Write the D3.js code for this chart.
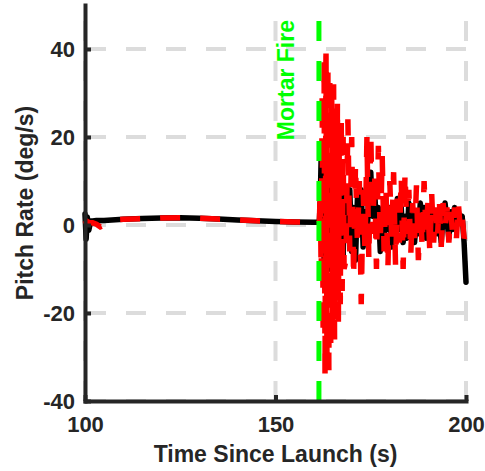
<!DOCTYPE html>
<html>
<head>
<meta charset="utf-8">
<script src="https://cdn.jsdelivr.net/npm/d3@7"></script>
<style>
  body { margin: 0; background: #fff; }
  svg text { font-family: "Liberation Sans", Arial, sans-serif; font-weight: bold; }
</style>
</head>
<body>
<script>
// pitch rate data
var preTime  = [100, 100.3, 100.6, 101, 101.5, 102, 103, 104, 105, 106, 108, 110, 115, 120, 125, 130, 135, 140, 145, 150, 155, 160, 161];
var preBlack = [2.5, -3.2, 1.8, -1.2, 0.9, 0.9, 1.0, 1.0, 1.05, 1.1, 1.2, 1.3, 1.45, 1.6, 1.65, 1.55, 1.35, 1.15, 0.95, 0.8, 0.7, 0.6, 0.6];
var preRed   = [1.0, 0.5, 0.8, 0.6, 0.5, 0.5, 0.2, -0.4, 0.0, 0.3, 1.2, 1.3, 1.45, 1.6, 1.65, 1.55, 1.35, 1.15, 0.95, 0.8, 0.7, 0.6, 0.6];

// right after the mortar fire the samples are denser
var postTime = [161.5, 161.75, 162, 162.25, 162.5, 162.75, 163, 163.25, 163.5, 163.75, 164, 164.25, 164.5, 164.75,
  165, 165.25, 165.5, 165.75, 166, 166.25, 166.5, 166.75, 167, 167.25, 167.5, 167.75, 168,
  168.5, 169, 169.5, 170,
  170.5, 171, 171.5, 172, 172.5, 173, 173.5, 174, 174.5, 175, 175.5, 176, 176.5, 177, 177.5, 178, 178.5, 179, 179.5, 180,
  180.5, 181, 181.5, 182, 182.5, 183, 183.5, 184, 184.5, 185, 185.5, 186, 186.5, 187, 187.5, 188, 188.5, 189, 189.5, 190,
  190.5, 191, 191.5, 192, 192.5, 193, 193.5, 194, 194.5, 195, 195.5, 196, 196.5, 197, 197.5, 198, 198.5, 199, 199.5, 200];
var postBlack = [0.5, 6, 16, -4, 12, -8, 10, -12, 8, -6, 12, -10, 6, -8,
  9, -4, 8, -12, 4, -14, 6, -10, 2, -6, 8, -8, 4,
  6, -2, 8, -6,
  4, -8, 6, -2, 8, -5, 3, -4, 8, 12, 2, 9, -2, 4, -6, 2, -3, 5, -1, 4,
  -5, 3, -2, 6, -1, 4, -4, 2, -3, 5, 0, 3, -4, 2, -2, 5, 1, 4, -3, 2,
  -2, 4, -1, 3, -2, 1, -4, 2, 5, 1, -3, 3, -1, 4, 0, 3, 1, 2, -4, -13];
var postRed = [0.5, 8, -12, 30, -25, 38, -34, 41, -30, 36, -33, 34, -28, 30,
  -24, 32, -26, 26, -20, 28, -22, 22, -18, 24, -15, 20, -10,
  -8, 24, -6, 20,
  -12, 14, -4, 10, -18, 8, -6, 20, -8, 21, -2, 12, -10, 18, -4, 16, -6, 8, -10, 10,
  -3, 12, -9, 6, -4, 11, -10, 12, -2, 8, -7, 5, -3, 9, -8, 4, -5, 10, -2, 5,
  -6, 7, -4, 4, -3, 6, -5, 5, -1, 4, -4, 3, -2, 4, -3, 5, -1, 2, -3, -2];

var xTicks = [100, 150, 200];
var yTicks = [-40, -20, 0, 20, 40];
var mortarTime = 161.4;

var width = 485, height = 471;
var plotL = 85, plotR = 466, plotT = 5, plotB = 401;
var ink = "#262626";

var svg = d3.select("body").append("svg")
    .attr("width", width)
    .attr("height", height);

var x = d3.scaleLinear().domain([100, 200]).range([plotL, plotR]);
var y = d3.scaleLinear().domain([-40, 50]).range([plotB, plotT]);

// grid (dashes start from the bottom / left edge)
var grid = svg.append("g")
    .attr("stroke", "#dcdcdc")
    .attr("stroke-width", 4)
    .attr("stroke-dasharray", "20,20");

grid.selectAll(".vg").data(xTicks).enter().append("line")
    .attr("x1", function(d) { return x(d); })
    .attr("x2", function(d) { return x(d); })
    .attr("y1", plotB)
    .attr("y2", plotT);

grid.selectAll(".hg").data(yTicks).enter().append("line")
    .attr("x1", plotL + 1)
    .attr("x2", plotR)
    .attr("y1", function(d) { return y(d); })
    .attr("y2", function(d) { return y(d); });

var blackPts = preTime.map(function(t, i) { return [t, preBlack[i]]; })
    .concat(postTime.map(function(t, i) { return [t, postBlack[i]]; }));
var redPts = preTime.map(function(t, i) { return [t, preRed[i]]; })
    .concat(postTime.map(function(t, i) { return [t, postRed[i]]; }));

var line = d3.line()
    .x(function(d) { return x(d[0]); })
    .y(function(d) { return y(d[1]); });

svg.append("path")
    .attr("d", line(blackPts))
    .attr("fill", "none")
    .attr("stroke", "#000")
    .attr("stroke-width", 5.5)
    .attr("stroke-linejoin", "round")
    .attr("stroke-linecap", "round");

svg.append("path")
    .attr("d", line(redPts))
    .attr("fill", "none")
    .attr("stroke", "#ff0000")
    .attr("stroke-width", 5.5)
    .attr("stroke-dasharray", "20,20");

// mortar fire marker
svg.append("line")
    .attr("x1", x(mortarTime))
    .attr("x2", x(mortarTime))
    .attr("y1", plotB)
    .attr("y2", plotT)
    .attr("stroke", "#00ff00")
    .attr("stroke-width", 5)
    .attr("stroke-dasharray", "20,20");

svg.append("text")
    .attr("transform", "translate(294,20) rotate(-90)")
    .attr("text-anchor", "end")
    .attr("fill", "#00ff00")
    .attr("font-size", "23px")
    .text("Mortar Fire");

// axes
var fmt = function(d) { return String(d); };

var xAxis = svg.append("g")
    .attr("transform", "translate(0," + plotB + ")")
    .call(d3.axisBottom(x).tickValues(xTicks).tickFormat(fmt).tickSizeInner(-6).tickSizeOuter(0).tickPadding(15));

var yAxis = svg.append("g")
    .attr("transform", "translate(" + plotL + ",0)")
    .call(d3.axisLeft(y).tickValues(yTicks).tickFormat(fmt).tickSizeInner(-6).tickSizeOuter(0).tickPadding(10));

[xAxis, yAxis].forEach(function(a) {
  a.select(".domain").attr("stroke", ink).attr("stroke-width", 4).attr("stroke-linecap", "square");
  a.selectAll(".tick line").attr("stroke", ink).attr("stroke-width", 4);
  a.selectAll(".tick text").attr("fill", ink).attr("font-size", "22px")
      .style("font-family", "'Liberation Sans', Arial, sans-serif").style("font-weight", "bold");
});

svg.append("text")
    .attr("x", (plotL + plotR) / 2)
    .attr("y", 462)
    .attr("text-anchor", "middle")
    .attr("fill", ink)
    .attr("font-size", "23px")
    .text("Time Since Launch (s)");

svg.append("text")
    .attr("transform", "translate(33," + ((plotT + plotB) / 2) + ") rotate(-90)")
    .attr("text-anchor", "middle")
    .attr("fill", ink)
    .attr("font-size", "23px")
    .text("Pitch Rate (deg/s)");
</script>
</body>
</html>
